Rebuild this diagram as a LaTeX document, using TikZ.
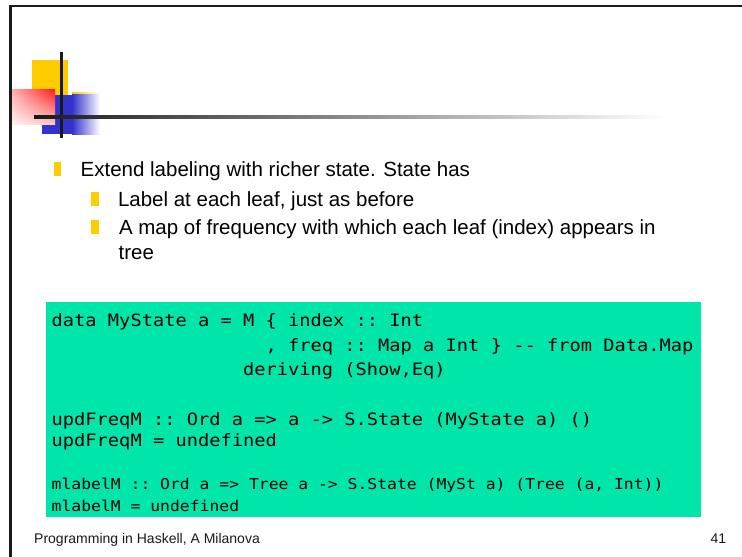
\documentclass[tikz,border=0pt]{standalone}
\usepackage{fontspec}
\usetikzlibrary{shadings}
\setmainfont{Liberation Sans}
\setmonofont{DejaVu Sans Mono}[FakeStretch=1.1]
\definecolor{slideyellow}{HTML}{FFCC00}
\definecolor{slideblue}{HTML}{3333CC}
\definecolor{slidered}{HTML}{FF1A1A}
\definecolor{codegreen}{HTML}{00E5AA}
\definecolor{inkdark}{HTML}{1A1A1A}
\begin{document}
\begin{tikzpicture}[x=1pt,y=-1pt,
  body/.style={anchor=base west, inner sep=0pt, text=black, font=\fontsize{20.5}{24}\selectfont},
  codebig/.style={anchor=base west, inner sep=0pt, text=black, font=\ttfamily\fontsize{17}{20}\selectfont},
  codesmall/.style={anchor=base west, inner sep=0pt, text=black, font=\ttfamily\fontsize{14.9}{18}\selectfont},
  foot/.style={anchor=base west, inner sep=0pt, text=inkdark, font=\fontsize{14}{16}\selectfont},
  bulletbar/.style={fill=slideyellow}]
\useasboundingbox (0,0) rectangle (742,557);
\fill[white] (0,0) rectangle (742,557);
% slide frame
\draw[line width=2.5pt, inkdark] (10.3,557) -- (10.3,6) -- (742,6);
% title decoration
\fill[slideyellow] (32,60) rectangle (68,95);
\fill[slideblue] (42,95) rectangle (72,134);
\shade[left color=slideblue, right color=white] (72,93.8) rectangle (100,134);
\shade[left color=slideyellow, right color=white] (72,92.6) rectangle (100,93.8);
\shade[upper right=slidered, upper left=slidered!35!white, lower right=slidered!25!white, lower left=slidered!6!white] (12,89) rectangle (55,124);
\fill[inkdark] (60,52) rectangle (63,138);
\shade[left color=inkdark, middle color=black!30, right color=white] (34,115.8) rectangle (665,118.8);
% bullets
\fill[bulletbar] (54,162) rectangle (61,176);
\fill[bulletbar] (91,192) rectangle (99,206);
\fill[bulletbar] (91,220) rectangle (99,234);
% body text
\node[body] (l1) at (80.5,176) {Extend labeling with richer state. State has};
\node[body] (l2) at (117.8,206) {Label at each leaf, just as before};
\node[body] (l3) at (118.8,234) {A map of frequency with which each leaf (index) appears in};
\node[body] (l4) at (118.5,259) {tree};
% code box
\fill[codegreen] (46,302) rectangle (701,517);
\node[codebig] (c1) at (51.5,326) {data MyState a = M \{ index :: Int};
\node[codebig] (c2) at (51.5,351) {\phantom{xxxxxxxxxxxxxxxxxxx}, freq :: Map a Int \} -- from Data.Map};
\node[codebig] (c3) at (51.5,375) {\phantom{xxxxxxxxxxxxxxxxx}deriving (Show,Eq)};
\node[codebig] (c4) at (51.5,425) {updFreqM :: Ord a => a -> S.State (MyState a) ()};
\node[codebig] (c5) at (51.5,446) {updFreqM = undefined};
\node[codesmall] (c6) at (51.5,489) {mlabelM :: Ord a => Tree a -> S.State (MySt a) (Tree (a, Int))};
\node[codesmall] (c7) at (51.5,511) {mlabelM = undefined};
% footer
\node[foot] (f1) at (34,543) {Programming in Haskell, A Milanova};
\node[foot] (f2) at (710.5,543) {41};
\end{tikzpicture}
\end{document}
